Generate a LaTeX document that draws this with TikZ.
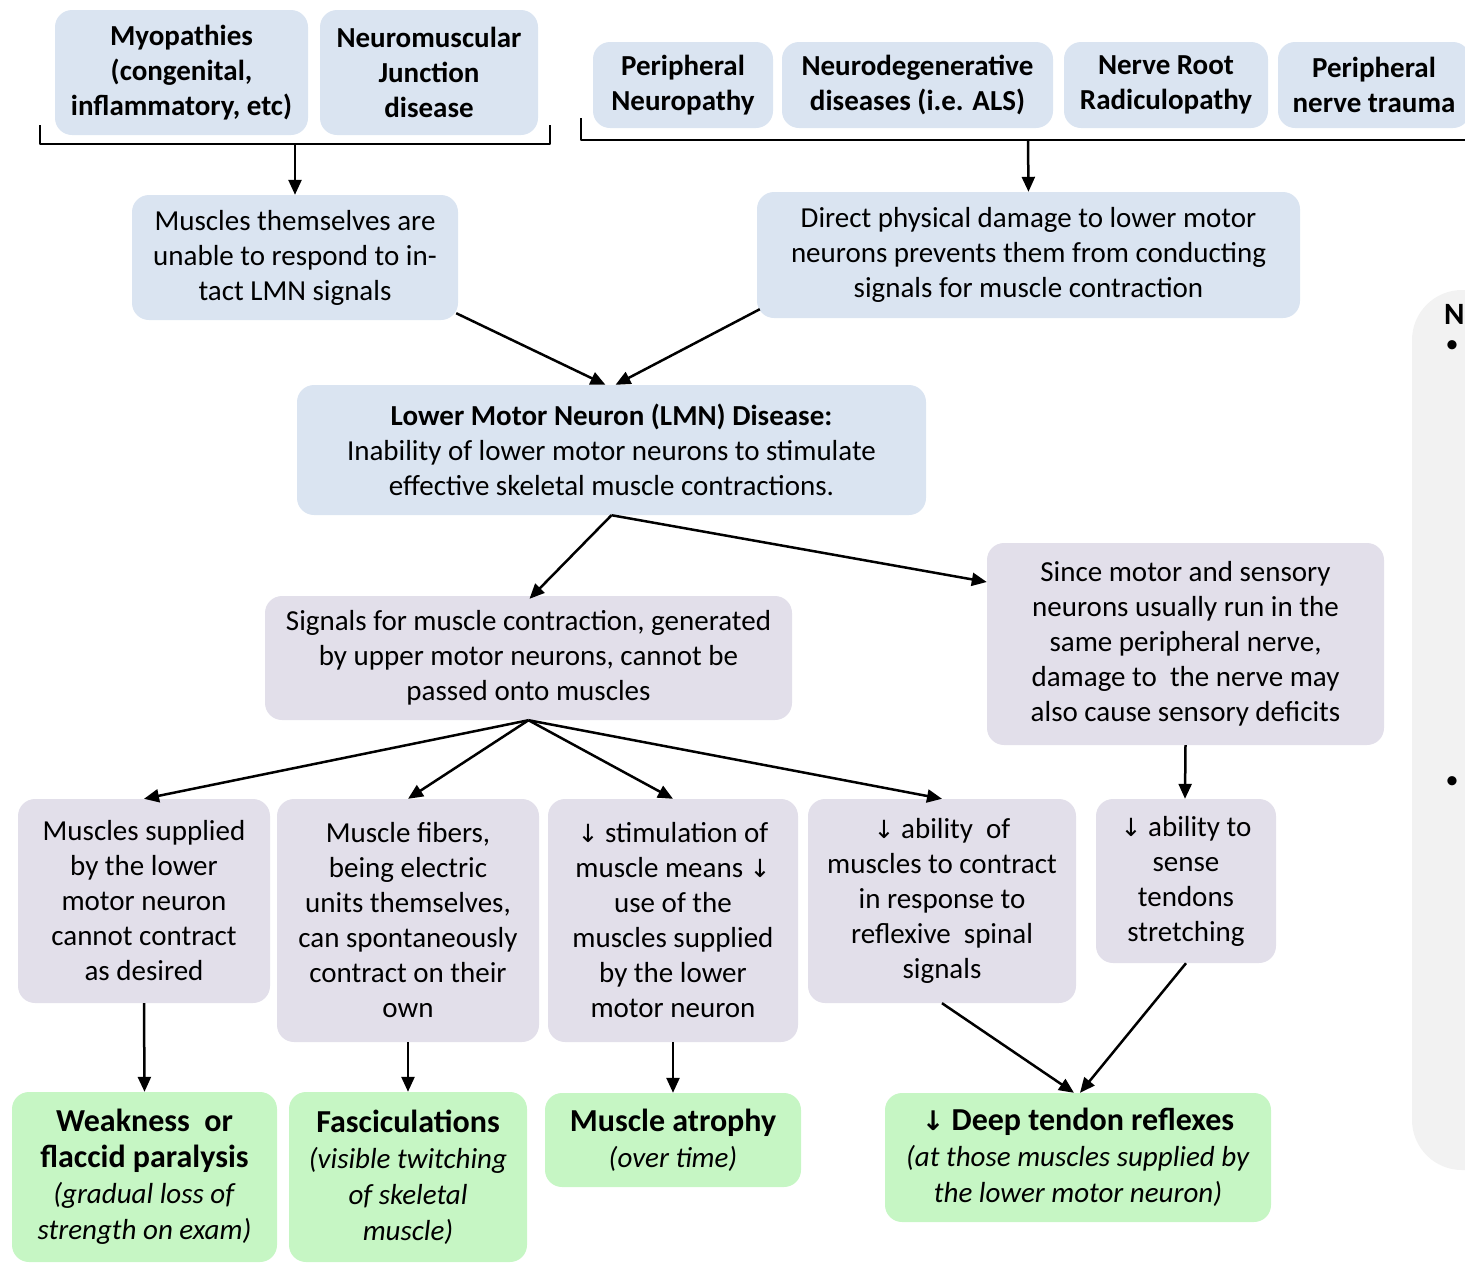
\documentclass[tikz,border=0pt]{standalone}
\usepackage{fontspec}
\setmainfont{Carlito}
\newfontfamily\djv{DejaVu Sans}
\usetikzlibrary{arrows.meta,calc}
\definecolor{blueC}{HTML}{DAE4F1}
\definecolor{lavC}{HTML}{E2DFEA}
\definecolor{greenC}{HTML}{C6F6C4}
\definecolor{grayC}{HTML}{F2F2F2}
\tikzset{
  box/.style={rounded corners=17pt, inner sep=0pt, align=center, font=\fontsize{29}{35}\selectfont},
  bluebox/.style={box, fill=blueC},
  topbox/.style={box, fill=blueC, font=\fontsize{29}{35}\selectfont\bfseries},
  lavbox/.style={box, fill=lavC},
  greenbox/.style={box, fill=greenC, font=\fontsize{29}{36}\selectfont},
  arr/.style={-{Triangle[length=15pt,width=13pt]}, line width=2.5pt},
  brace/.style={line width=2.5pt, line join=round},
  sz/.style 2 args={minimum width=#1pt, minimum height=#2pt},
}
\newcommand{\gt}[1]{{\fontsize{32}{38}\selectfont\bfseries #1}}
\newcommand{\dn}{{\djv\fontsize{25}{35}\selectfont ↓}}
\begin{document}
\begin{tikzpicture}[x=1pt,y=-1pt]
\useasboundingbox (0,0) rectangle (1465,1262);
\clip (0,0) rectangle (1465,1262);

% right gray panel
\fill[grayC, rounded corners=50pt] (1412,290) rectangle (1560,1170);
\node[anchor=west, font=\fontsize{31}{36}\selectfont\bfseries, inner sep=0pt] (nn) at (1444,314) {N};
\node[font=\fontsize{26}{30}\selectfont, inner sep=0pt] (b1) at (1452,347) {•};
\node[font=\fontsize{26}{30}\selectfont, inner sep=0pt] (b2) at (1452,783) {•};

% top boxes
\node[topbox, sz={253}{125}] (myo) at (181.5,72.5) {Myopathies\\(congenital,\\inflammatory, etc)};
\node[topbox, sz={218}{125}] (nmj) at (429,72.5) {Neuromuscular\\Junction\\disease};
\node[topbox, sz={180}{86}] (pn) at (683,85) {Peripheral\\Neuropathy};
\node[topbox, sz={271}{86}] (nd) at (917.5,85) {Neurodegenerative\\diseases (i.e. ALS)};
\node[topbox, sz={204}{86}] (nr) at (1166,85) {Nerve Root\\Radiculopathy};
\node[topbox, sz={192}{86}] (pt) at (1374,85) {Peripheral\\nerve trauma};

% brackets
\coordinate (bracL) at (295,144);
\coordinate (bracR) at (1028,140);
\draw[brace] (40,125) -- (40,144) -- (550,144) -- (550,125);
\draw[brace] (581,118) -- (581,140) -- (1480,140);

% second row
\node[bluebox, sz={326}{125}] (mus) at (295,257.5) {Muscles themselves are\\unable to respond to in-\\tact LMN signals};
\node[bluebox, sz={543}{126}] (dmg) at (1028.5,255) {Direct physical damage to lower motor\\neurons prevents them from conducting\\signals for muscle contraction};

\draw[arr] (bracL) -- (mus.north);
\draw[arr] (bracR) -- (dmg.north);

% LMN
\node[bluebox, sz={629}{130}] (lmn) at (611.5,450) {\textbf{Lower Motor Neuron (LMN) Disease:}\\Inability of lower motor neurons to stimulate\\effective skeletal muscle contractions.};
\draw[arr] ([xshift=-2pt,yshift=7pt]mus.south east) -- ([xshift=-6pt]lmn.north);
\draw[arr] ([xshift=3pt,yshift=9pt]dmg.south west) -- ([xshift=4pt]lmn.north);

% third row
\node[lavbox, sz={527}{124}] (sig) at (528.5,658) {Signals for muscle contraction, generated\\by upper motor neurons, cannot be\\passed onto muscles};
\node[lavbox, sz={397}{202}] (sens) at (1185.5,644) {Since motor and sensory\\neurons usually run in the\\same peripheral nerve,\\damage to\ \ the nerve may\\also cause sensory deficits};
\draw[arr] (lmn.south) -- ([xshift=1pt,yshift=-3pt]sig.north);
\draw[arr] (lmn.south) -- ([yshift=62pt]sens.west);

% fourth row
\node[lavbox, sz={252}{204}] (r1) at (144,901) {Muscles supplied\\by the lower\\motor neuron\\cannot contract\\as desired};
\node[lavbox, sz={262}{243}] (r2) at (408,920.5) {Muscle fibers,\\being electric\\units themselves,\\can spontaneously\\contract on their\\own};
\node[lavbox, sz={250}{243}] (r3) at (673,920.5) {\dn\ stimulation of\\muscle means \dn\\use of the\\muscles supplied\\by the lower\\motor neuron};
\node[lavbox, sz={268}{204}] (r4) at (942,901) {\dn\ ability\ \ of\\muscles to contract\\in response to\\reflexive\ \ spinal\\signals};
\node[lavbox, sz={180}{164}] (r5) at (1186,881) {\dn\ ability to\\sense\\tendons\\stretching};

\draw[arr] (sig.south) -- (r1.north);
\draw[arr] (sig.south) -- (r2.north);
\draw[arr] (sig.south) -- (r3.north);
\draw[arr] (sig.south) -- (r4.north);
\draw[arr] (sens.south) -- ([xshift=-1pt]r5.north);

% bottom row
\node[greenbox, sz={265}{170}] (g1) at (144.5,1177) {\gt{Weakness\ \ or}\\\gt{flaccid paralysis}\\\textit{(gradual loss of}\\\textit{strength on exam)}};
\node[greenbox, sz={238}{170}] (g2) at (408,1177) {\gt{Fasciculations}\\\textit{(visible twitching}\\\textit{of skeletal}\\\textit{muscle)}};
\node[greenbox, sz={256}{94}] (g3) at (673,1140) {\gt{Muscle atrophy}\\\textit{(over time)}};
\node[greenbox, sz={386}{129}] (g4) at (1078,1157.5) {\gt{{\djv\bfseries\fontsize{27}{38}\selectfont ↓} Deep tendon reflexes}\\\textit{(at those muscles supplied by}\\\textit{the lower motor neuron)}};

\draw[arr] (r1.south) -- (g1.north);
\draw[arr] (r2.south) -- (g2.north);
\draw[arr] (r3.south) -- (g3.north);
\draw[arr] (r4.south) -- ([xshift=-4pt]g4.north);
\draw[arr] (r5.south) -- ([xshift=2pt]g4.north);
\end{tikzpicture}
\end{document}
